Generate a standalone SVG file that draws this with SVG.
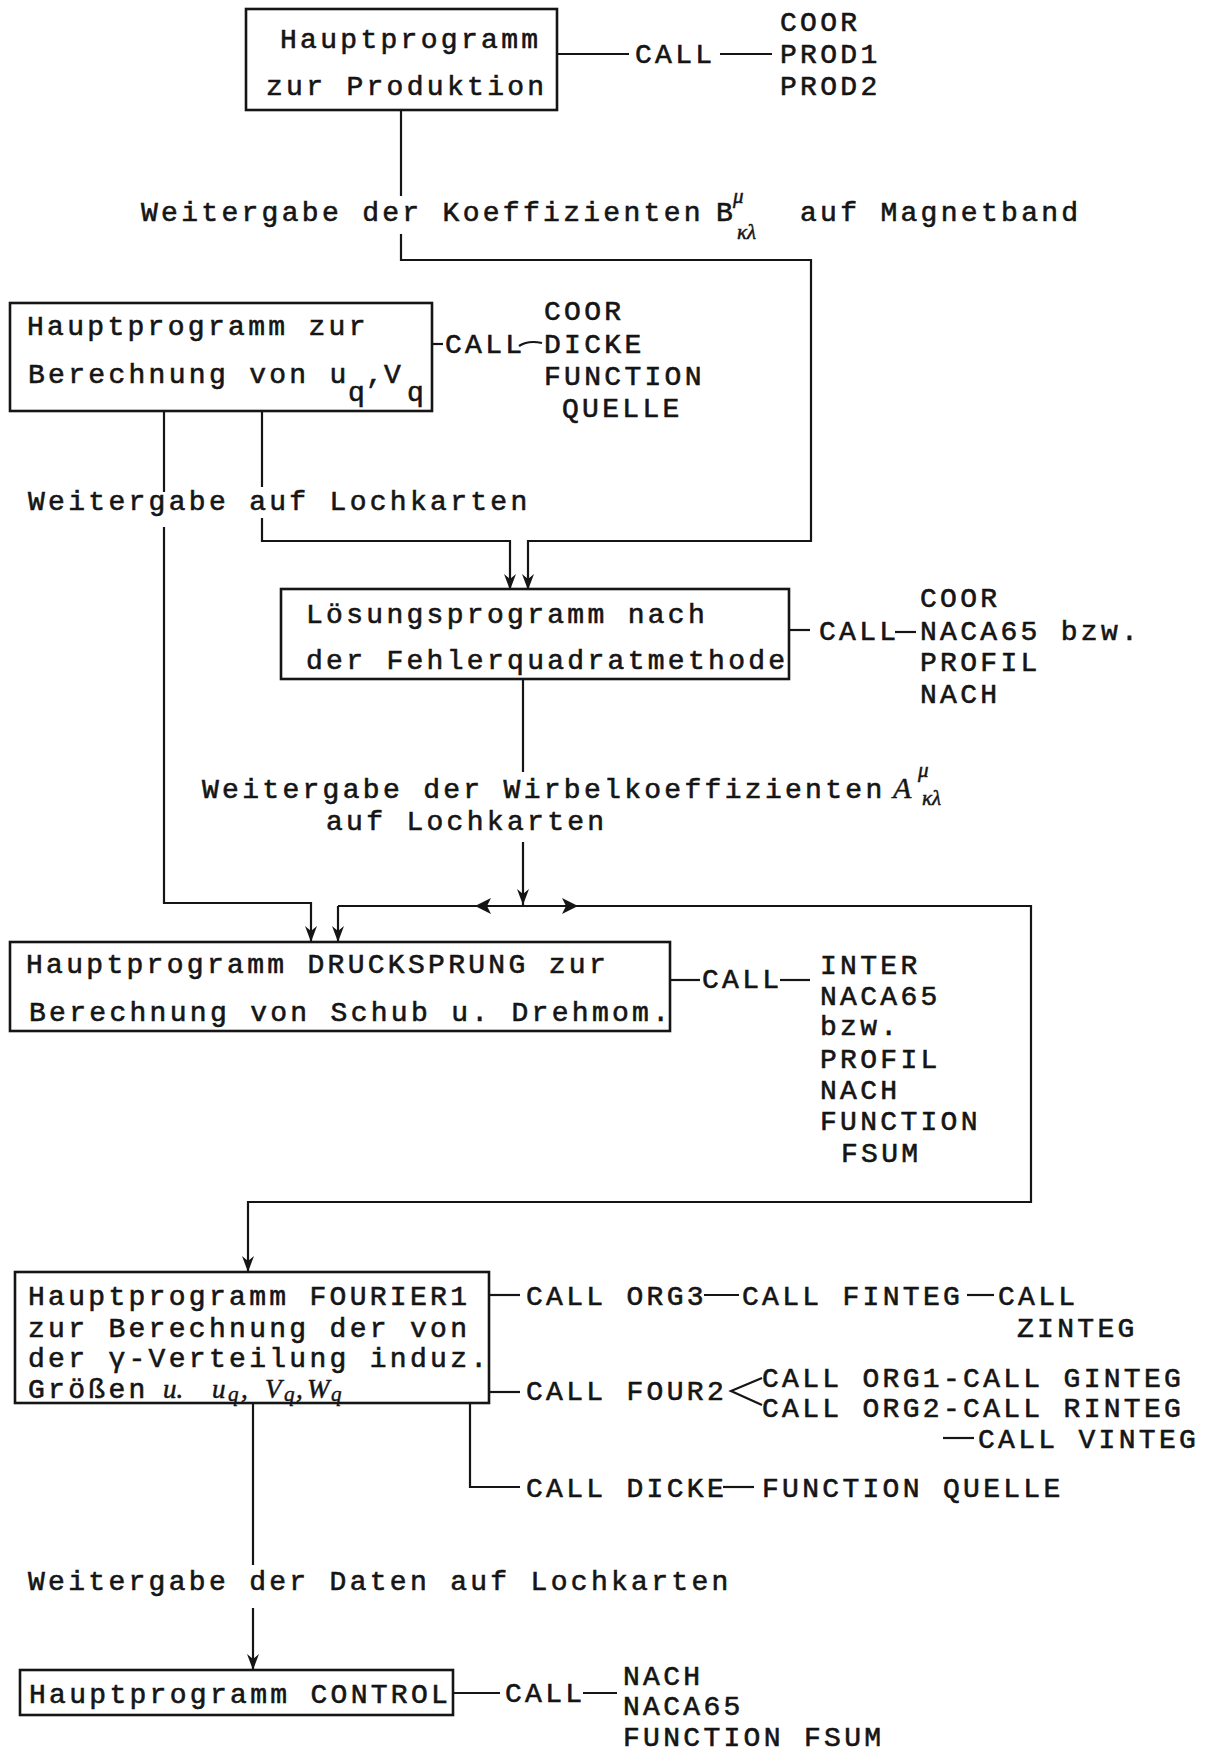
<svg xmlns="http://www.w3.org/2000/svg" width="1213" height="1755" viewBox="0 0 1213 1755">
<defs>
<style>
.t{font-family:"Liberation Mono","DejaVu Sans Mono",monospace;font-size:28px;letter-spacing:3.3px;fill:#151515;stroke:#151515;stroke-width:0.6}
.s{font-family:"Liberation Serif","DejaVu Serif",serif;font-style:italic;font-size:27px;letter-spacing:0;stroke-width:0.5}
.ss{font-family:"Liberation Serif","DejaVu Serif",serif;font-style:italic;font-size:21px;letter-spacing:0;stroke-width:0.5}
.box{fill:none;stroke:#151515;stroke-width:2.6}
.ln{fill:none;stroke:#151515;stroke-width:2.2}
.ah{fill:#151515}
</style>
<marker id="ad" viewBox="0 0 12 16" refX="6" refY="16" markerWidth="12" markerHeight="16" markerUnits="userSpaceOnUse" orient="0">
<path d="M0,0 L6,16 L12,0 L6,5 Z" fill="#151515"/>
</marker>
</defs>
<rect width="1213" height="1755" fill="#ffffff"/>

<g id="connectors">
<path class="ln" d="M557,54 H629"/>
<path class="ln" d="M720,54 H772"/>
<path class="ln" d="M401,110 V196"/>
<path class="ln" d="M401,234 V260 H811 V541 H528 V590" marker-end="url(#ad)"/>
<path class="ln" d="M432,344 H443"/>
<path class="ln" d="M519,346 Q528,340 542,343"/>
<path class="ln" d="M164,411 V492"/>
<path class="ln" d="M164,527 V903 H311 V942" marker-end="url(#ad)"/>
<path class="ln" d="M262,411 V487"/>
<path class="ln" d="M262,518 V541 H510 V590" marker-end="url(#ad)"/>
<path class="ln" d="M789,630 H810"/>
<path class="ln" d="M895,632 H916"/>
<path class="ln" d="M523,679 V772"/>
<path class="ln" d="M523,842 V905" marker-end="url(#ad)"/>
<path class="ln" d="M338,906 H1031 V1202 H248 V1272" marker-end="url(#ad)"/>
<path class="ln" d="M338,906 V942" marker-end="url(#ad)"/>
<polygon class="ah" points="475,906 491,898 487,906 491,914"/>
<polygon class="ah" points="578,906 562,898 566,906 562,914"/>
<path class="ln" d="M670,980 H700"/>
<path class="ln" d="M780,980 H810"/>
<path class="ln" d="M489,1295 H520"/>
<path class="ln" d="M704,1295 H739"/>
<path class="ln" d="M967,1295 H994"/>
<path class="ln" d="M489,1392 H520"/>
<path class="ln" d="M762,1378 L731,1391 L762,1405" stroke-width="2.6"/>
<path class="ln" d="M943,1438 H974"/>
<path class="ln" d="M470,1404 V1487 H520"/>
<path class="ln" d="M723,1487 H754"/>
<path class="ln" d="M253,1404 V1565"/>
<path class="ln" d="M253,1608 V1670" marker-end="url(#ad)"/>
<path class="ln" d="M453,1693 H500"/>
<path class="ln" d="M583,1693 H617"/>
</g>

<g id="node1">
<rect class="box" x="246" y="9" width="311" height="101"/>
<text class="t" x="280" y="48">Hauptprogramm</text>
<text class="t" x="266" y="95">zur Produktion</text>
</g>
<g id="node1-calls">
<text class="t" x="635" y="63">CALL</text>
<text class="t" x="780" y="31">COOR</text>
<text class="t" x="780" y="63">PROD1</text>
<text class="t" x="780" y="95">PROD2</text>
</g>

<g id="label1">
<text class="t" x="141" y="221">Weitergabe der Koeffizienten<tspan x="716">B</tspan><tspan class="ss" x="733" y="203">μ</tspan><tspan class="ss" x="737" y="239">κλ</tspan><tspan x="800" y="221">auf Magnetband</tspan></text>
</g>

<g id="node2">
<rect class="box" x="10" y="303" width="422" height="108"/>
<text class="t" x="27" y="335">Hauptprogramm zur</text>
<text class="t" x="28" y="383">Berechnung von u<tspan x="348" y="401">q</tspan><tspan x="366" y="383">,</tspan><tspan x="384">V</tspan><tspan x="407" y="401">q</tspan></text>
</g>
<g id="node2-calls">
<text class="t" x="445" y="353">CALL</text>
<text class="t" x="544" y="320">COOR</text>
<text class="t" x="544" y="353">DICKE</text>
<text class="t" x="544" y="385">FUNCTION</text>
<text class="t" x="562" y="417">QUELLE</text>
</g>

<g id="label2">
<text class="t" x="28" y="510">Weitergabe auf Lochkarten</text>
</g>

<g id="node3">
<rect class="box" x="281" y="589" width="508" height="90"/>
<text class="t" x="306" y="623">Lösungsprogramm nach</text>
<text class="t" x="306" y="669">der Fehlerquadratmethode</text>
</g>
<g id="node3-calls">
<text class="t" x="819" y="640">CALL</text>
<text class="t" x="920" y="607">COOR</text>
<text class="t" x="920" y="640">NACA65 bzw.</text>
<text class="t" x="920" y="671">PROFIL</text>
<text class="t" x="920" y="703">NACH</text>
</g>

<g id="label3">
<text class="t" x="202" y="798">Weitergabe der Wirbelkoeffizienten<tspan class="s" x="893" style="font-size:30px">A</tspan><tspan class="ss" x="918" y="777">μ</tspan><tspan class="ss" x="922" y="805">κλ</tspan></text>
<text class="t" x="326" y="830">auf Lochkarten</text>
</g>

<g id="node4">
<rect class="box" x="10" y="942" width="660" height="89"/>
<text class="t" x="26" y="973">Hauptprogramm DRUCKSPRUNG zur</text>
<text class="t" x="29" y="1021">Berechnung von Schub u. Drehmom.</text>
</g>
<g id="node4-calls">
<text class="t" x="702" y="988">CALL</text>
<text class="t" x="820" y="974">INTER</text>
<text class="t" x="820" y="1005">NACA65</text>
<text class="t" x="820" y="1035">bzw.</text>
<text class="t" x="820" y="1068">PROFIL</text>
<text class="t" x="820" y="1099">NACH</text>
<text class="t" x="820" y="1130">FUNCTION</text>
<text class="t" x="841" y="1162">FSUM</text>
</g>

<g id="node5">
<rect class="box" x="15" y="1272" width="474" height="131"/>
<text class="t" x="28" y="1305">Hauptprogramm FOURIER1</text>
<text class="t" x="28" y="1337">zur Berechnung der von</text>
<text class="t" x="28" y="1367">der γ-Verteilung induz.</text>
<text class="t" x="28" y="1398">Größen<tspan class="s" x="163">u.</tspan><tspan class="s" x="212">u</tspan><tspan class="ss" x="228" y="1401">q</tspan><tspan class="s" x="241" y="1398">,</tspan><tspan class="s" x="265">V</tspan><tspan class="ss" x="284" y="1401">q</tspan><tspan class="s" x="296" y="1398">,</tspan><tspan class="s" x="307">W</tspan><tspan class="ss" x="331" y="1401">q</tspan></text>
</g>
<g id="node5-calls">
<text class="t" x="526" y="1305">CALL ORG3</text>
<text class="t" x="742" y="1305">CALL FINTEG</text>
<text class="t" x="998" y="1305">CALL</text>
<text class="t" x="1017" y="1337">ZINTEG</text>
<text class="t" x="526" y="1400">CALL FOUR2</text>
<text class="t" x="762" y="1387">CALL ORG1-CALL GINTEG</text>
<text class="t" x="762" y="1417">CALL ORG2-CALL RINTEG</text>
<text class="t" x="978" y="1448">CALL VINTEG</text>
<text class="t" x="526" y="1497">CALL DICKE</text>
<text class="t" x="762" y="1497">FUNCTION QUELLE</text>
</g>

<g id="label5">
<text class="t" x="28" y="1590">Weitergabe der Daten auf Lochkarten</text>
</g>

<g id="node6">
<rect class="box" x="20" y="1670" width="433" height="45"/>
<text class="t" x="29" y="1703">Hauptprogramm CONTROL</text>
</g>
<g id="node6-calls">
<text class="t" x="505" y="1702">CALL</text>
<text class="t" x="623" y="1685">NACH</text>
<text class="t" x="623" y="1715">NACA65</text>
<text class="t" x="623" y="1746">FUNCTION FSUM</text>
</g>
</svg>
